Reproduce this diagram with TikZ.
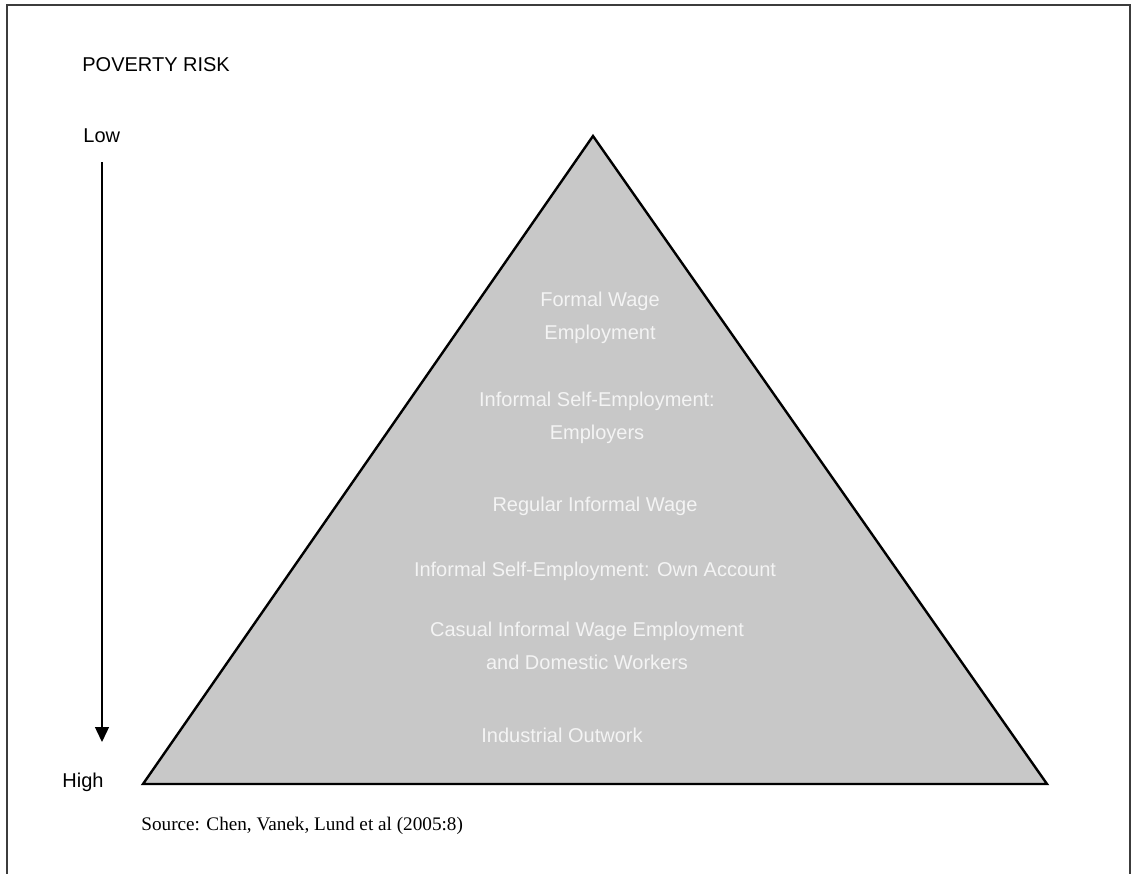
\documentclass[tikz,border=0pt]{standalone}
\usepackage{fontspec}
\setmainfont{Liberation Serif}
\setsansfont{Liberation Sans}
\usepackage{tikz}
\usetikzlibrary{arrows.meta, positioning}
\definecolor{pyramidfill}{RGB}{200,200,200}
\definecolor{layertext}{RGB}{244,244,244}
\definecolor{framegray}{RGB}{60,60,60}

\begin{document}
\begin{tikzpicture}[x=0.5pt, y=-0.5pt, every node/.style={font=\sffamily\fontsize{10}{12}\selectfont}]
  \useasboundingbox (0,0) rectangle (1132,874);
  % Frame (open at the bottom)
  \draw[framegray, line width=1pt] (7,874) -- (7,5) -- (1130,5) -- (1130,874);
  % Title and axis labels
  \node[anchor=west, inner sep=0pt] (title) at (82,65) {POVERTY RISK};
  \node[anchor=west, inner sep=0pt] (low) at (83,136) {Low};
  \node[anchor=west, inner sep=0pt] (high) at (62,782) {High};
  % Risk arrow
  \coordinate (arrtop) at (102,162);
  \coordinate (arrbot) at (102,742);
  \draw[-{Triangle[length=7.5pt, width=7pt]}, line width=0.7pt] (arrtop) -- (arrbot);
  % Pyramid
  \coordinate (apex) at (593,136);
  \coordinate (bl) at (143,784);
  \coordinate (br) at (1047,784);
  \filldraw[fill=pyramidfill, draw=black, line width=1.2pt, line join=miter] (apex) -- (br) -- (bl) -- cycle;
  % Layers
  \foreach \name/\y/\x/\txt in {
    formal/318/600/{Formal Wage\\Employment},
    employers/418/597/{Informal Self-Employment:\\Employers},
    regular/506/595/{Regular Informal Wage},
    ownacc/571/595/{Informal Self-Employment: Own Account},
    casual/646/587/{Casual Informal Wage Employment\\and Domestic Workers},
    outwork/735/562/{Industrial Outwork}}{
    \node[layertext, align=center, inner sep=0pt,
      font=\sffamily\fontsize{10}{16.5}\selectfont] (\name) at (\x,\y) {\txt};
  }
  % Source
  \node[anchor=west, inner sep=0pt, font=\rmfamily\fontsize{9.6}{12}\selectfont] (source) at (141,826)
    {Source: Chen, Vanek, Lund et al (2005:8)};
\end{tikzpicture}
\end{document}
